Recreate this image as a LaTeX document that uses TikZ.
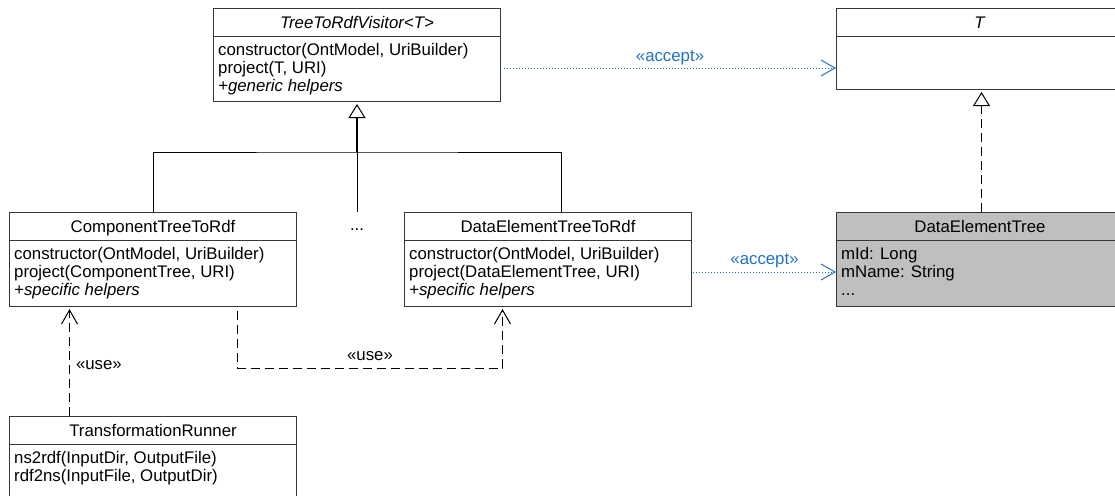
\documentclass[tikz,border=0pt]{standalone}
\usepackage{fontspec}
\setmainfont{Liberation Sans}
\usetikzlibrary{arrows.meta}

\definecolor{acceptblue}{RGB}{35,112,200}
\definecolor{edgegray}{RGB}{55,55,55}
\definecolor{entityfill}{RGB}{191,191,191}

\tikzset{
  classbox/.style={draw=edgegray, line width=1pt, fill=white, minimum width=287pt,
    inner sep=0pt, anchor=north west},
  classline/.style={draw=edgegray, line width=1pt},
  titletext/.style={anchor=base, inner sep=0pt},
  bodytext/.style={anchor=north west, inner sep=0pt, align=left},
  genline/.style={draw=black, line width=1pt},
  genstem/.style={draw=black, line width=1.6pt,
    -{Triangle[open,length=14pt,width=17pt,line width=1pt]}, shorten >=2pt},
  realizeline/.style={draw=black, line width=1pt, dash pattern=on 9pt off 5pt,
    -{Triangle[open,length=14pt,width=17pt]}, shorten >=2pt},
  acceptdep/.style={draw=acceptblue, line width=1pt, dash pattern=on 1.2pt off 1.8pt,
    -{Straight Barb[length=14pt,width=16pt]}},
  acceptlabel/.style={anchor=base, inner sep=0pt, text=acceptblue},
  usedep/.style={draw=black, line width=1pt, dash pattern=on 9pt off 5pt,
    -{Straight Barb[length=14pt,width=16pt]}},
  uselabel/.style={inner sep=0pt, text=black},
}

% class box: [extra style]{name}{x}{y}{height}{title}{members}
\newcommand\umlclass[7][]{%
  \node[classbox,#1,minimum height=#5pt] (#2) at (#3,#4) {};
  \draw[classline] ([yshift=-28.5pt]#2.north west) -- ([yshift=-28.5pt]#2.north east);
  \node[titletext] (#2-title) at ([yshift=-20.5pt]#2.north) {#6};
  \node[bodytext] (#2-body) at ([xshift=5pt,yshift=-33pt]#2.north west) {\rule{0pt}{14pt}#7};
}

\begin{document}
\begin{tikzpicture}[x=1pt, y=-1pt, font=\fontsize{16.8}{18}\selectfont]
\useasboundingbox (0,0) rectangle (1115,495);
\clip (0,0) rectangle (1115,495);

\umlclass{vis}{213}{8}{93}{\textit{TreeToRdfVisitor<T>}}%
  {constructor(OntModel, UriBuilder)\\project(T, URI)\\\textit{+generic helpers}}
\umlclass{T}{836}{8}{81}{\textit{T}}{}
\umlclass{comp}{9}{212}{94}{ComponentTreeToRdf}%
  {constructor(OntModel, UriBuilder)\\project(ComponentTree, URI)\\\textit{+specific helpers}}
\umlclass{deltr}{404}{212}{94}{DataElementTreeToRdf}%
  {constructor(OntModel, UriBuilder)\\project(DataElementTree, URI)\\\textit{+specific helpers}}
\umlclass[fill=entityfill]{det}{836}{212}{94}{DataElementTree}%
  {mId: Long\\mName: String\\...}
\umlclass{runner}{9}{416}{100}{TransformationRunner}%
  {ns2rdf(InputDir, OutputFile)\\rdf2ns(InputFile, OutputDir)}

% generalization tree
\coordinate (fork) at (vis.south |- 0,152);
\node[anchor=north, inner sep=0pt, text height=18pt] (more) at (vis.south |- 0,212) {...};
\draw[genstem] (fork) -- (vis.south);
\draw[genline] (comp.north) |- (fork) -| ([xshift=13.5pt]deltr.north);
\draw[genline] (fork) -- (more.north);

% realization of T
\draw[realizeline] ([xshift=1.5pt]det.north) -- ([xshift=1.5pt]T.south);

% accept dependencies
\draw[acceptdep] ([xshift=3pt]vis.east |- 0,68)
  -- node[acceptlabel, yshift=6pt] {«accept»} (T.west |- 0,68);
\draw[acceptdep] ([xshift=1pt]deltr.east |- 0,272)
  -- node[acceptlabel, yshift=8pt] {«accept»} (det.west |- 0,272);

% use dependencies
\draw[usedep] ([xshift=-83.5pt]runner.north)
  -- node[uselabel, pos=0.43, anchor=base west, xshift=6pt] {«use»}
  ([xshift=-83.5pt,yshift=-2pt]comp.south);
\draw[usedep] ([xshift=84.5pt,yshift=-4pt]comp.south)
  |- node[uselabel, pos=0.75, anchor=base, yshift=8pt] {«use»}
  ([xshift=-45.5pt]deltr.south |- 0,368)
  -- ([xshift=-45.5pt,yshift=-2pt]deltr.south);
\end{tikzpicture}
\end{document}
